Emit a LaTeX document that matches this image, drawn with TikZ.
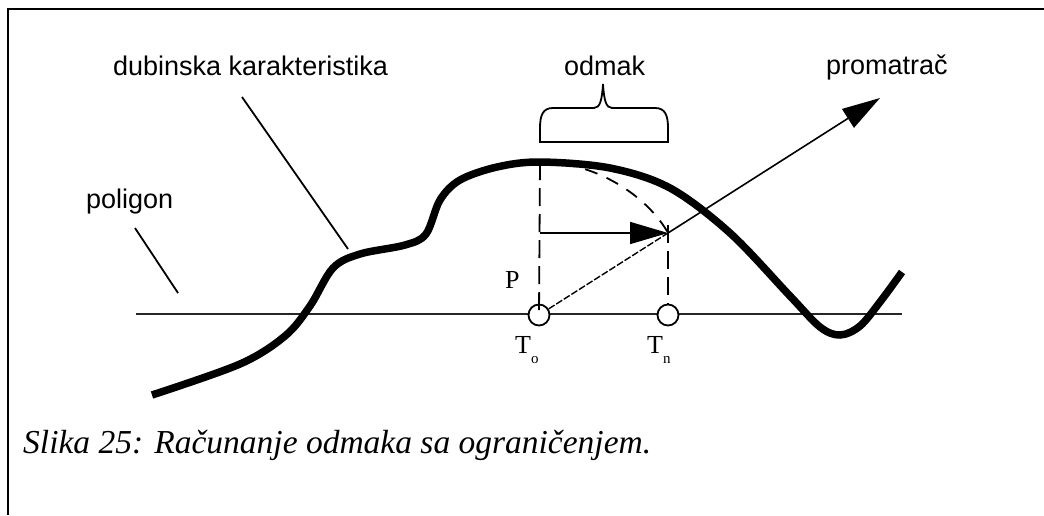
\documentclass[tikz,border=0pt]{standalone}
\usepackage{fontspec}
\setmainfont{Liberation Serif}
\newfontfamily\labelsans{Liberation Sans}
\usetikzlibrary{arrows.meta}
\begin{document}
\begin{tikzpicture}[x=1pt,y=-1pt,
  frame/.style={line width=2pt},
  ground/.style={line width=2.8pt, draw=black!85},
  terrain/.style={line width=7.5pt},
  leader/.style={line width=1.8pt},
  guide/.style={line width=1.8pt, dash pattern=on 18pt off 8pt},
  arcguide/.style={line width=1.8pt, dash pattern=on 13pt off 10pt},
  ray/.style={line width=1.6pt},
  bigtip/.style={-{Triangle[length=38pt,width=22pt]}},
  station/.style={circle, draw, line width=1.8pt, fill=white, minimum size=21pt, inner sep=0pt},
  sanslabel/.style={font=\labelsans\fontsize{27}{31}\selectfont, inner sep=0pt, anchor=base west},
  seriflabel/.style={font=\fontsize{26}{30}\selectfont, inner sep=0pt, anchor=base west},
  subfont/.style={},
]
\useasboundingbox (0,0) rectangle (1044,515);
\fill[white] (0,0) rectangle (1044,515);

% open frame: top and left edges
\draw[frame] (1044,9) -- (8,9) -- (8,515);

% key points
\coordinate (top) at (540,162);
\coordinate (I) at (668,233);
\coordinate (h0) at (540,233);
\coordinate (tnTop) at (668,225);
\coordinate (obs) at (880,98);

% polygon line
\draw[ground] (136,314) -- (902,314);

% depth characteristic
\draw[terrain] plot[smooth, tension=0.55] coordinates {
  (152,395) (240,364) (285,336) (310,306) (333,268) (360,254) (405,245)
  (426,234) (440,200) (460,180) (497,167) (540,162) (610,168) (670,188)
  (730,233) (790,296) (820,327) (840,335) (860,326) (880,302) (902,272)};

% stations
\node[station] (To) at (539,315) {};
\node[station] (Tn) at (668,315) {};

% dashed guides
\draw[guide] (top) -- (To.center);
\draw[guide] (tnTop) -- (Tn.north);
\draw[arcguide] (top) .. controls (600,162) and (650,200) .. (I);

% line of sight
\draw[ray, line width=1.4pt, dash pattern=on 7pt off 2pt] (To) -- (I);
\draw[ray, bigtip] (I) -- (obs);
\draw[ray, bigtip] (h0) -- (I);

% brace over the shift
\draw[leader] (540,142) -- (540,128) .. controls (540,115) and (543,108) .. (553,108)
  -- (594,108) .. controls (600,108) and (602,100) .. (603,84)
  .. controls (604,100) and (606,108) .. (612,108)
  -- (655,108) .. controls (665,108) and (668,115) .. (668,128) -- (668,142) -- cycle;

% labels
\node[sanslabel] (depthlbl) at (113,75) {dubinska karakteristika};
\node[sanslabel] (shiftlbl) at (564,75) {odmak};
\node[sanslabel] (obslbl) at (826,74) {promatrač};
\node[sanslabel] (polylbl) at (86,208) {poligon};
\node[seriflabel] (plbl) at (505,288) {P};
\node[seriflabel] (tolbl) at (515,353) {T\raisebox{-10pt}{\fontsize{15}{15}\selectfont o}};
\node[seriflabel] (tnlbl) at (647,353) {T\raisebox{-10pt}{\fontsize{15}{15}\selectfont n}};

% leader lines
\coordinate (d1) at (242,97);
\coordinate (d2) at (348,249);
\coordinate (p1) at (135,228);
\coordinate (p2) at (178,293);
\draw[leader] (d1) -- (d2);
\draw[leader] (p1) -- (p2);

% caption
\node[font=\itshape\fontsize{33.5}{40}\selectfont, inner sep=0pt, anchor=base west] (caption)
  at (23,453) {Slika 25: Računanje odmaka sa ograničenjem.};
\end{tikzpicture}
\end{document}
